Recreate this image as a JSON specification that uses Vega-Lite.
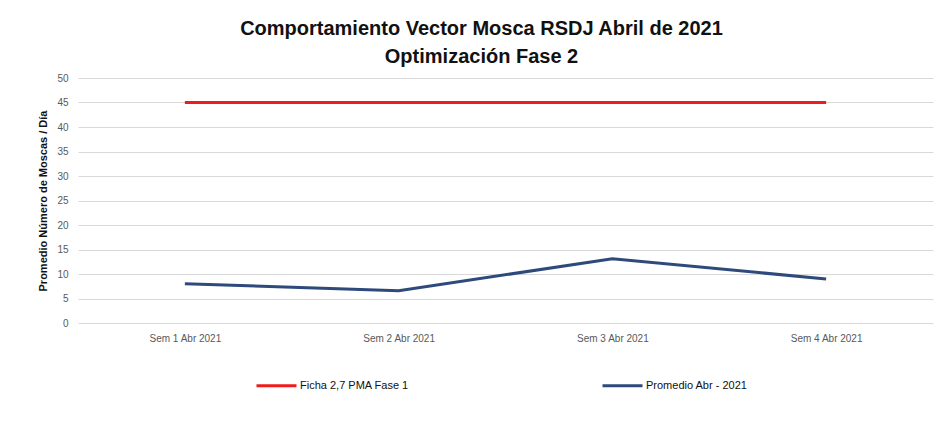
{
  "$schema": "https://vega.github.io/schema/vega-lite/v6.json",
  "autosize": "none",
  "width": 855,
  "height": 245,
  "padding": {"left": 78, "top": 78, "right": 9, "bottom": 98},
  "background": "white",
  "title": {
    "text": ["Comportamiento Vector Mosca RSDJ Abril de 2021", "Optimización Fase 2"],
    "anchor": "middle",
    "dx": -24,
    "offset": 6,
    "font": "Liberation Sans",
    "fontSize": 20,
    "fontWeight": "bold",
    "lineHeight": 28,
    "color": "#111111"
  },
  "config": {
    "view": {"stroke": null},
    "font": "Liberation Sans"
  },
  "data": {
    "values": [
      {"semana": "Sem 1 Abr 2021", "serie": "Ficha 2,7 PMA Fase 1", "valor": 45},
      {"semana": "Sem 2 Abr 2021", "serie": "Ficha 2,7 PMA Fase 1", "valor": 45},
      {"semana": "Sem 3 Abr 2021", "serie": "Ficha 2,7 PMA Fase 1", "valor": 45},
      {"semana": "Sem 4 Abr 2021", "serie": "Ficha 2,7 PMA Fase 1", "valor": 45},
      {"semana": "Sem 1 Abr 2021", "serie": "Promedio Abr - 2021", "valor": 8},
      {"semana": "Sem 2 Abr 2021", "serie": "Promedio Abr - 2021", "valor": 6.6},
      {"semana": "Sem 3 Abr 2021", "serie": "Promedio Abr - 2021", "valor": 13.1},
      {"semana": "Sem 4 Abr 2021", "serie": "Promedio Abr - 2021", "valor": 9}
    ]
  },
  "mark": {"type": "line", "strokeWidth": 3},
  "encoding": {
    "x": {
      "field": "semana",
      "type": "ordinal",
      "sort": null,
      "scale": {"type": "point", "padding": 0.5},
      "axis": {
        "title": null,
        "labelAngle": 0,
        "labelColor": "#595959",
        "labelFontSize": 10,
        "labelPadding": 10,
        "domain": false,
        "ticks": false,
        "grid": false
      }
    },
    "y": {
      "field": "valor",
      "type": "quantitative",
      "scale": {"domain": [0, 50], "nice": false},
      "axis": {
        "title": "Promedio Número de Moscas / Día",
        "titleFontSize": 11,
        "titleFontWeight": "bold",
        "titleColor": "#111111",
        "titlePadding": 8,
        "values": [0, 5, 10, 15, 20, 25, 30, 35, 40, 45, 50],
        "labelColor": "#595959",
        "labelFontSize": 10,
        "labelPadding": 10,
        "domain": false,
        "ticks": false,
        "gridColor": "#d9d9d9",
        "gridWidth": 1
      }
    },
    "color": {
      "field": "serie",
      "type": "nominal",
      "scale": {
        "domain": ["Ficha 2,7 PMA Fase 1", "Promedio Abr - 2021"],
        "range": ["#ee1c1c", "#2e4a7a"]
      },
      "legend": {
        "title": null,
        "orient": "none",
        "direction": "horizontal",
        "legendX": 177,
        "legendY": 286,
        "symbolType": "stroke",
        "symbolSize": 1600,
        "symbolStrokeWidth": 3,
        "columnPadding": 187,
        "labelFontSize": 11,
        "labelColor": "#111111",
        "labelOffset": 2
      }
    }
  }
}
